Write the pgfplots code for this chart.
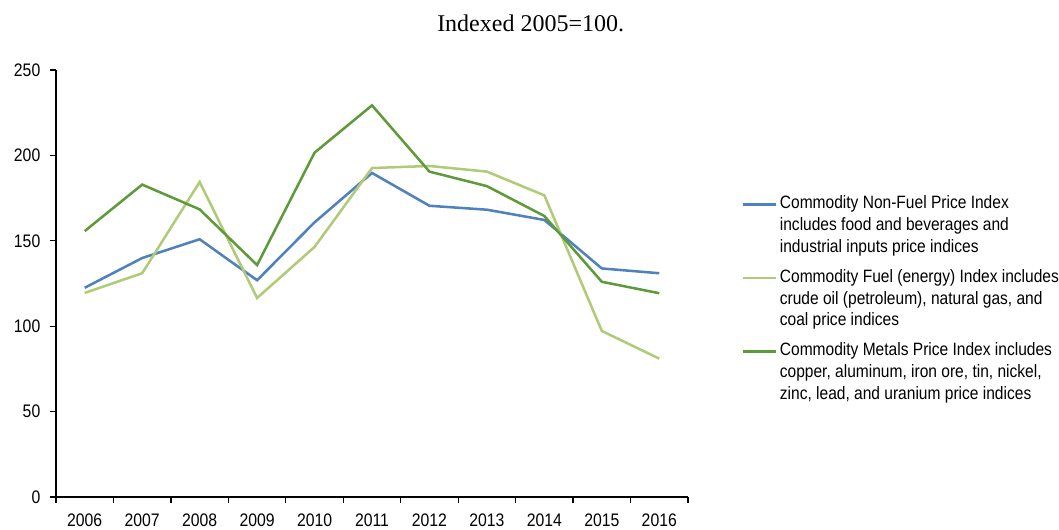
\documentclass[border=0pt]{standalone}
\usepackage{fontspec}
\setmainfont{Liberation Sans}
\newfontfamily\narrowsans[FakeStretch=0.87]{Liberation Sans}
\newfontfamily\titlefont{Liberation Serif}
\usepackage{pgfplots}
\pgfplotsset{compat=1.18}

\definecolor{nonfuel}{HTML}{4F81BD}
\definecolor{fuel}{HTML}{B0CB78}
\definecolor{metals}{HTML}{5F9A3A}

\newcommand{\legtext}[1]{\narrowsans\fontsize{13.4}{16.3}\selectfont\begin{tabular}[t]{@{}l@{}}#1\end{tabular}}

\begin{document}
\begin{tikzpicture}
    % canvas 1059x530 px at 0.75pt per px
    \useasboundingbox (0,0) rectangle (794.25pt,397.5pt);

    \node[anchor=base, font=\titlefont\fontsize{18}{20}\selectfont] at (398pt,373.5pt) {Indexed 2005=100.};

    \begin{axis}[
            at={(42pt,24.75pt)},
            anchor=south west,
            scale only axis,
            width=474pt,
            height=320.25pt,
            xmin=-0.5, xmax=10.5,
            ymin=0, ymax=250,
            axis x line*=bottom,
            axis y line*=left,
            axis line style={line width=1pt, -},
            xtick={0,...,10},
            xticklabels={2006,2007,2008,2009,2010,2011,2012,2013,2014,2015,2016},
            minor xtick={-0.5,0.5,...,10.5},
            ytick={0,50,...,250},
            tick align=outside,
            major tick length=4.5pt,
            minor tick length=4.5pt,
            major x tick style={draw=none},
            tick style={line width=1pt, black},
            ticklabel style={font=\narrowsans\fontsize{13.6}{15}\selectfont},
            xticklabel style={inner sep=0pt, yshift=-7.8pt},
            yticklabel style={xshift=-3.75pt},
            /pgf/number format/assume math mode=true,
            legend style={
                    at={(1.084,0.711)},
                    anchor=north west,
                    draw=none, fill=none,
                    inner sep=0pt,
                    row sep=6.2pt,
                    column sep=2.25pt,
                    nodes={inner sep=0pt, text depth=},
                    cells={anchor=west}
                },
            legend image code/.code={\draw[#1, line width=1.9pt] (0pt,16.3pt) -- (24.75pt,16.3pt);},
        ]

        \addplot[nonfuel, line width=1.9pt] coordinates {
                (0,122.5) (1,139.9) (2,150.9) (3,126.9) (4,160.8) (5,189.7)
                (6,170.5) (7,168.2) (8,162.2) (9,133.8) (10,131.0)
            };
        \addlegendentry{\legtext{Commodity Non-Fuel Price Index\\includes food and beverages and\\industrial inputs price indices}}

        \addplot[fuel, line width=1.9pt] coordinates {
                (0,119.5) (1,131.0) (2,184.4) (3,116.5) (4,146.4) (5,192.6)
                (6,193.8) (7,190.5) (8,176.6) (9,97.2) (10,81.0)
            };
        \addlegendentry{\legtext{Commodity Fuel (energy) Index includes\\crude oil (petroleum), natural gas, and\\coal price indices}}

        \addplot[metals, line width=1.9pt] coordinates {
                (0,155.7) (1,182.9) (2,168.4) (3,135.8) (4,201.6) (5,229.3)
                (6,190.5) (7,182.0) (8,164.5) (9,126.0) (10,119.3)
            };
        \addlegendentry{\legtext{Commodity Metals Price Index includes\\copper, aluminum, iron ore, tin, nickel,\\zinc, lead, and uranium price indices}}

    \end{axis}
\end{tikzpicture}
\end{document}
